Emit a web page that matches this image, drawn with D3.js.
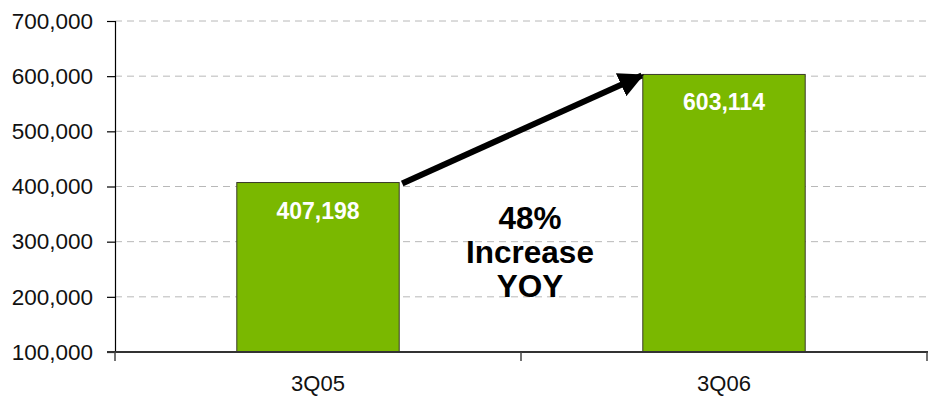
<!DOCTYPE html>
<html>
<head>
<meta charset="utf-8">
<script src="https://cdn.jsdelivr.net/npm/d3@7"></script>
<style>
  html, body { margin: 0; padding: 0; background: #fff; }
  svg { display: block; font-family: "Liberation Sans", Arial, sans-serif; }
</style>
</head>
<body>
<svg id="chart" width="928" height="400"></svg>
<script>
// Quarterly totals
const categories = ["3Q05", "3Q06"];
const values = [407198, 603114];
const yTicks = [100000, 200000, 300000, 400000, 500000, 600000, 700000];
const noteLines = ["48%", "Increase", "YOY"];

const width = 928, height = 400;
const margin = { top: 21, right: 1, bottom: 48, left: 115 };

const svg = d3.select("#chart");

const x = d3.scaleBand()
  .domain(categories)
  .range([margin.left, width - margin.right])
  .paddingInner(0)
  .paddingOuter(0);

const y = d3.scaleLinear()
  .domain([100000, 700000])
  .range([height - margin.bottom, margin.top]);

const fmt = d3.format(",");
const barW = x.bandwidth() * 0.4;

// Dashed horizontal gridlines
svg.append("g")
  .selectAll("line")
  .data(yTicks.filter(d => d > 100000))
  .join("line")
  .attr("x1", margin.left)
  .attr("x2", width - margin.right)
  .attr("y1", d => y(d))
  .attr("y2", d => y(d))
  .attr("stroke", "#b8b8b8")
  .attr("stroke-width", 1)
  .attr("stroke-dasharray", "7,5");

// Bars
svg.append("g")
  .selectAll("rect")
  .data(categories)
  .join("rect")
  .attr("x", (d) => x(d) + (x.bandwidth() - barW) / 2)
  .attr("y", (d, i) => y(values[i]))
  .attr("width", barW)
  .attr("height", (d, i) => y(100000) - y(values[i]))
  .attr("fill", "#7ab800")
  .attr("stroke", "#3a3a2a")
  .attr("stroke-width", 1);

// Value labels inside bars
svg.append("g")
  .selectAll("text")
  .data(categories)
  .join("text")
  .attr("x", d => x(d) + x.bandwidth() / 2)
  .attr("y", (d, i) => y(values[i]) + 36)
  .attr("text-anchor", "middle")
  .attr("fill", "#fff")
  .attr("font-weight", "bold")
  .attr("font-size", 23)
  .text((d, i) => fmt(values[i]));

// Y axis
const yAxis = svg.append("g")
  .attr("transform", `translate(${margin.left},0)`)
  .call(d3.axisLeft(y).tickValues(yTicks).tickFormat(fmt).tickSize(8).tickPadding(14));
yAxis.select(".domain").attr("stroke", "#000").attr("stroke-width", 1.2);
yAxis.selectAll(".tick line").attr("stroke", "#000").attr("stroke-width", 1.2);
yAxis.selectAll(".tick text")
  .attr("font-size", 22.5)
  .attr("fill", "#111")
  .attr("font-family", "Liberation Sans, Arial, sans-serif");

// X axis baseline and category separator ticks
const base = y(100000);
svg.append("line")
  .attr("x1", margin.left - 8).attr("x2", width)
  .attr("y1", base).attr("y2", base)
  .attr("stroke", "#333").attr("stroke-width", 2);

const bounds = [x(categories[0]), x(categories[1]), x(categories[1]) + x.bandwidth()];
svg.append("g")
  .selectAll("line")
  .data(bounds)
  .join("line")
  .attr("x1", d => d).attr("x2", d => d)
  .attr("y1", base).attr("y2", base + 9)
  .attr("stroke", "#444").attr("stroke-width", 1.5);

// Category labels
svg.append("g")
  .selectAll("text")
  .data(categories)
  .join("text")
  .attr("x", d => x(d) + x.bandwidth() / 2)
  .attr("y", 391)
  .attr("text-anchor", "middle")
  .attr("font-size", 22)
  .attr("fill", "#111")
  .text(d => d);

// Growth arrow from the first bar's top corner to the second bar's top corner
const defs = svg.append("defs");
defs.append("marker")
  .attr("id", "head")
  .attr("viewBox", "0 0 10 10")
  .attr("refX", 9)
  .attr("refY", 5)
  .attr("markerWidth", 4.2)
  .attr("markerHeight", 4.2)
  .attr("orient", "auto")
  .append("path")
  .attr("d", "M0,0 L10,5 L0,10 Z")
  .attr("fill", "#000");

const x0 = x(categories[0]) + (x.bandwidth() + barW) / 2 + 3;
const y0 = y(values[0]) + 1;
const x1 = x(categories[1]) + (x.bandwidth() - barW) / 2 - 1;
const y1 = y(values[1]) + 1;
svg.append("line")
  .attr("x1", x0).attr("y1", y0)
  .attr("x2", x1).attr("y2", y1)
  .attr("stroke", "#000")
  .attr("stroke-width", 6)
  .attr("marker-end", "url(#head)");

// Growth note
svg.append("g")
  .selectAll("text")
  .data(noteLines)
  .join("text")
  .attr("x", 530)
  .attr("y", (d, i) => 229 + i * 34)
  .attr("text-anchor", "middle")
  .attr("font-weight", "bold")
  .attr("font-size", 31.5)
  .attr("fill", "#000")
  .text(d => d);
</script>
</body>
</html>
